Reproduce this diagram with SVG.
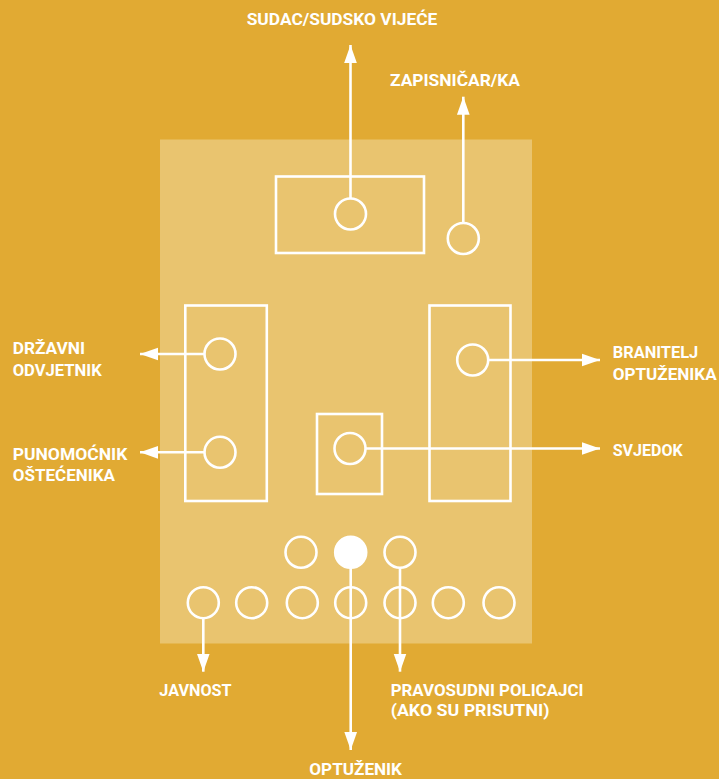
<svg xmlns="http://www.w3.org/2000/svg" width="719" height="779" viewBox="0 0 719 779">
<style>
.o{fill:none;stroke:#fff;stroke-width:2.6}
.f{fill:#fff;stroke:#fff;stroke-width:2.6}
.c{stroke:#fff;stroke-width:2.6;fill:none}
text{font-family:Roboto,"Open Sans","Liberation Sans",sans-serif;font-weight:700;font-size:17px;fill:#fff}
</style>
<defs>
<marker id="ah" markerUnits="userSpaceOnUse" markerWidth="18" markerHeight="14" viewBox="0 0 17 12" refX="17" refY="6" orient="auto">
<path d="M0,0 L17,6 L0,12 z" fill="#fff"/>
</marker>
</defs>
<rect width="719" height="779" fill="#E1AA33"/>
<rect x="160" y="139.5" width="372" height="504" fill="#E9C46F"/>
<g id="judge-bench"><rect class="o" x="276" y="176.5" width="148" height="76.5"/><circle class="o" cx="350.5" cy="214" r="15.5"/></g>
<g id="clerk"><circle class="o" cx="463.3" cy="238.5" r="15.5"/></g>
<g id="prosecution-table"><rect class="o" x="185.3" y="305.5" width="81.5" height="195.5"/><circle class="o" cx="220" cy="354" r="15.5"/><circle class="o" cx="220" cy="452.3" r="15.5"/></g>
<g id="defence-table"><rect class="o" x="429.5" y="305.5" width="81" height="195.5"/><circle class="o" cx="472.7" cy="360" r="15.5"/></g>
<g id="witness-stand"><rect class="o" x="317" y="414" width="65" height="80"/><circle class="o" cx="350" cy="448.5" r="15.5"/></g>
<g id="defendant-row"><circle class="o" cx="301" cy="552.3" r="15.5"/><circle class="f" cx="350.7" cy="552.3" r="15.5"/><circle class="o" cx="400" cy="552.3" r="15.5"/></g>
<g id="public-row"><circle class="o" cx="203.3" cy="602.7" r="15.5"/><circle class="o" cx="251.7" cy="602.7" r="15.5"/><circle class="o" cx="302.3" cy="602.7" r="15.5"/><circle class="o" cx="350.7" cy="602.7" r="15.5"/><circle class="o" cx="400" cy="602.7" r="15.5"/><circle class="o" cx="448.3" cy="602.7" r="15.5"/><circle class="o" cx="499" cy="602.7" r="15.5"/></g>
<g id="connectors">
<line class="c" x1="350.5" y1="198.5" x2="350.5" y2="45" marker-end="url(#ah)"/>
<line class="c" x1="463.3" y1="223" x2="463.3" y2="96.7" marker-end="url(#ah)"/>
<line class="c" x1="204.5" y1="354" x2="140" y2="354" marker-end="url(#ah)"/>
<line class="c" x1="204.5" y1="452.3" x2="140" y2="452.3" marker-end="url(#ah)"/>
<line class="c" x1="488.2" y1="360" x2="600" y2="360" marker-end="url(#ah)"/>
<line class="c" x1="365.5" y1="448.5" x2="600" y2="448.5" marker-end="url(#ah)"/>
<line class="c" x1="203.3" y1="618.2" x2="203.3" y2="671.7" marker-end="url(#ah)"/>
<line class="c" x1="350.7" y1="567.8" x2="350.7" y2="750" marker-end="url(#ah)"/>
<line class="c" x1="400" y1="567.8" x2="400" y2="671.7" marker-end="url(#ah)"/>
</g>
<g id="labels">
<text x="246.7" y="25" textLength="190.6" lengthAdjust="spacingAndGlyphs">SUDAC/SUDSKO VIJEĆE</text>
<text x="390" y="86" textLength="130" lengthAdjust="spacingAndGlyphs">ZAPISNIČAR/KA</text>
<text x="12.7" y="354" textLength="72.3" lengthAdjust="spacingAndGlyphs">DRŽAVNI</text>
<text x="12.7" y="375.7" textLength="89" lengthAdjust="spacingAndGlyphs">ODVJETNIK</text>
<text x="12.7" y="460" textLength="114.6" lengthAdjust="spacingAndGlyphs">PUNOMOĆNIK</text>
<text x="12.7" y="481" textLength="102.3" lengthAdjust="spacingAndGlyphs">OŠTEĆENIKA</text>
<text x="612.7" y="358.3" textLength="85.6" lengthAdjust="spacingAndGlyphs">BRANITELJ</text>
<text x="612.7" y="380" textLength="104" lengthAdjust="spacingAndGlyphs">OPTUŽENIKA</text>
<text x="612.7" y="455.7" textLength="70" lengthAdjust="spacingAndGlyphs">SVJEDOK</text>
<text x="159.3" y="695.5" textLength="72.3" lengthAdjust="spacingAndGlyphs">JAVNOST</text>
<text x="390.7" y="695.5" textLength="192.7" lengthAdjust="spacingAndGlyphs">PRAVOSUDNI POLICAJCI</text>
<text x="390.7" y="716" textLength="158.7" lengthAdjust="spacingAndGlyphs">(AKO SU PRISUTNI)</text>
<text x="309.3" y="775" textLength="92.7" lengthAdjust="spacingAndGlyphs">OPTUŽENIK</text>
</g>
</svg>
